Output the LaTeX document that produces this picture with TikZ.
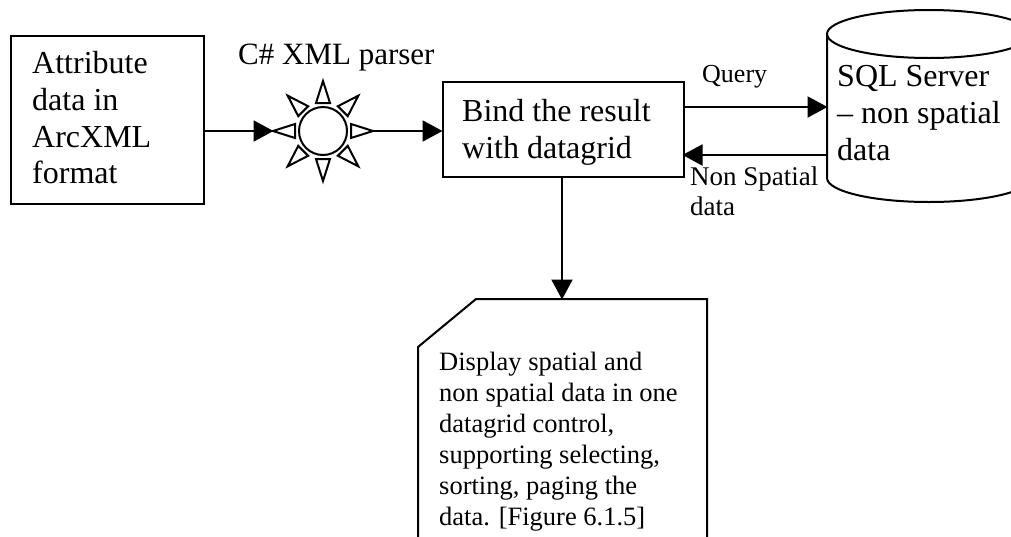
\documentclass[tikz,border=0pt]{standalone}
\usepackage{fontspec}
\setmainfont{Liberation Serif}
\usetikzlibrary{arrows.meta}
\tikzset{
  x=1pt,y=-1pt,
  outline/.style={draw=black,line width=2pt,line join=miter},
  conn/.style={draw=black,line width=2pt,-{Triangle[length=20pt,width=21pt,inset=0pt]},shorten >=-0.5pt},
  bigtext/.style={inner sep=0pt,anchor=north west,align=left,font=\fontsize{32}{36.8}\selectfont},
  captiontext/.style={inner sep=0pt,anchor=north west,align=left,font=\fontsize{31}{36}\selectfont},
  smalltext/.style={inner sep=0pt,anchor=north west,align=left,font=\fontsize{26.5}{31}\selectfont},
  labeltext/.style={inner sep=0pt,anchor=north west,align=left,font=\fontsize{27}{30}\selectfont},
  querytext/.style={inner sep=0pt,anchor=north west,align=left,font=\fontsize{26}{30}\selectfont},
  ray/.style={draw=black,line width=2pt,line join=miter,fill=white}
}
\begin{document}
\begin{tikzpicture}
\clip (0,0) rectangle (1011,536);
\fill[white] (0,0) rectangle (1011,536);
% attribute box
\node[outline,inner sep=0pt,minimum width=193pt,minimum height=168pt,anchor=north west] (attr) at (10,35) {};
\node[bigtext] (attrtext) at (32,51) {Attribute\\data in\\ArcXML\\format};
% sun
\node[draw=black,line width=2pt,circle,minimum size=48pt,inner sep=0pt] (sun) at (323,131) {};
\foreach \a in {0,45,...,315}{
  \draw[ray,rotate around={\a:(323,131)}] (351,124) -- (373,131) -- (351,138) -- cycle;
}
\node[captiontext] (suntext) at (238,44) {C\# XML parser};
% bind box
\node[outline,inner sep=0pt,minimum width=241pt,minimum height=95pt,anchor=north west] (bind) at (442,81) {};
\node[bigtext] (bindtext) at (462,99) {Bind the result\\with datagrid};
% cylinder
\draw[outline,fill=white] (827,34) -- (827,178) arc[start angle=180,end angle=360,x radius=102,y radius=-24] -- (1031,34);
\draw[outline] (929,34) ellipse[x radius=102,y radius=24];
\coordinate (cylA) at (827,107);
\coordinate (cylB) at (827,155);
\coordinate (bindA) at (683,107);
\coordinate (bindB) at (683,155);
\node[bigtext] (sqltext) at (837,65.5) {SQL Server\\– non spatial\\data};
% document
\draw[outline] (418,540) -- (418,347) -- (476,299) -- (707,299) -- (707,540);
\coordinate (docTop) at (562,299);
\node[smalltext] (doctext) at (439,352) {Display spatial and\\non spatial data in one\\datagrid control,\\supporting selecting,\\sorting, paging the\\data. [Figure 6.1.5]};
% labels
\node[querytext] (q) at (702,65.5) {Query};
\node[labeltext] (ns) at (690,167) {Non Spatial\\data};
% connectors
\coordinate (sunL) at (273,131);
\coordinate (sunR) at (373,131);
\draw[conn] (attr.east|-sun) -- (sunL);
\draw[conn] (sunR) -- (bind.west|-sun);
\draw[conn] (bindA) -- (cylA);
\draw[conn] (cylB) -- (bindB);
\draw[conn] (bind.south-|docTop) -- (docTop);
\end{tikzpicture}
\end{document}
